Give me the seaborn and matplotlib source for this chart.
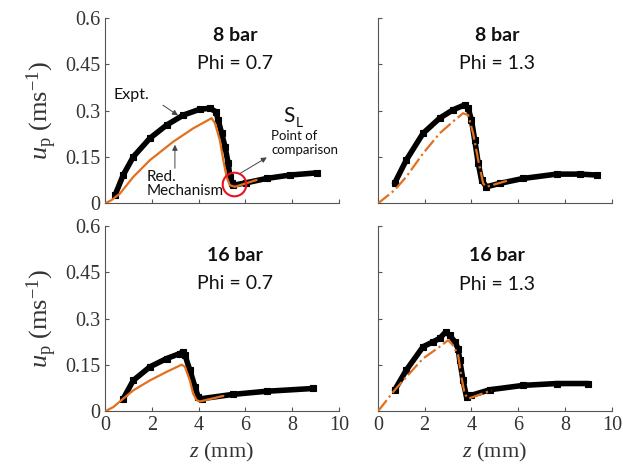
import matplotlib
matplotlib.use("Agg")
import matplotlib.pyplot as plt
import seaborn as sns

# 8 bar, Phi = 0.7
z_exp_8_07 = [0.43, 0.78, 1.21, 1.92, 2.64, 3.35, 4.06, 4.49, 4.74, 4.84, 4.99, 5.13, 5.27, 5.34, 5.41, 5.48, 6.05, 6.91, 7.91, 9.05]
u_exp_8_07 = [0.027, 0.092, 0.151, 0.211, 0.254, 0.286, 0.305, 0.308, 0.297, 0.270, 0.227, 0.184, 0.130, 0.086, 0.065, 0.059, 0.067, 0.081, 0.092, 0.099]
z_mod_8_07 = [0, 0.28, 0.64, 1.21, 1.92, 2.92, 3.77, 4.56, 4.70, 4.91, 5.06, 5.20, 5.34, 5.56, 6.48]
u_mod_8_07 = [0, 0.011, 0.032, 0.086, 0.140, 0.200, 0.243, 0.276, 0.260, 0.205, 0.140, 0.086, 0.059, 0.054, 0.076]

# 8 bar, Phi = 1.3
z_exp_8_13 = [0.71, 1.21, 1.93, 2.64, 3.21, 3.71, 3.86, 4.00, 4.14, 4.29, 4.43, 4.64, 5.21, 6.21, 7.64, 8.64, 9.36]
u_exp_8_13 = [0.065, 0.140, 0.227, 0.276, 0.303, 0.319, 0.308, 0.270, 0.205, 0.130, 0.076, 0.054, 0.065, 0.081, 0.095, 0.095, 0.092]
z_mod_8_13 = [0, 0.71, 1.21, 1.93, 2.64, 3.21, 3.64, 3.86, 4.07, 4.29, 4.50, 4.64, 5.64]
u_mod_8_13 = [0, 0.043, 0.086, 0.162, 0.227, 0.265, 0.292, 0.286, 0.227, 0.140, 0.065, 0.054, 0.076]

# 16 bar, Phi = 0.7
z_exp_16_07 = [0.78, 1.21, 1.92, 2.64, 3.20, 3.32, 3.42, 3.63, 3.85, 3.99, 4.13, 5.48, 6.91, 8.90]
u_exp_16_07 = [0.041, 0.100, 0.144, 0.171, 0.187, 0.192, 0.182, 0.133, 0.079, 0.046, 0.041, 0.055, 0.065, 0.074]
z_mod_16_07 = [0, 0.36, 0.78, 1.21, 1.92, 2.64, 3.28, 3.42, 3.63, 3.77, 3.92, 4.06, 5.06]
u_mod_16_07 = [0, 0.014, 0.041, 0.068, 0.100, 0.128, 0.151, 0.144, 0.100, 0.057, 0.036, 0.032, 0.050]

# 16 bar, Phi = 1.3
z_exp_16_13 = [0.71, 1.21, 1.93, 2.36, 2.64, 2.90, 3.07, 3.29, 3.43, 3.50, 3.64, 3.79, 4.00, 4.79, 6.21, 7.64, 9.00]
u_exp_16_13 = [0.068, 0.133, 0.209, 0.225, 0.236, 0.257, 0.246, 0.225, 0.203, 0.165, 0.100, 0.046, 0.052, 0.070, 0.084, 0.090, 0.090]
z_mod_16_13 = [0, 0.71, 1.21, 1.93, 2.64, 3.00, 3.21, 3.43, 3.57, 3.71, 3.86, 4.86]
u_mod_16_13 = [0, 0.068, 0.111, 0.171, 0.209, 0.230, 0.214, 0.182, 0.111, 0.057, 0.041, 0.068]

pressures = ["8 bar", "8 bar", "16 bar", "16 bar"]
phis = ["Phi = 0.7", "Phi = 1.3", "Phi = 0.7", "Phi = 1.3"]
x_ticks = [0, 2, 4, 6, 8, 10]
y_ticks = [0, 0.15, 0.3, 0.45, 0.6]
y_tick_labels = ["0", "0.15", "0.3", "0.45", "0.6"]

sns.set_style("ticks")
plt.rcParams["font.family"] = ["Liberation Serif", "DejaVu Serif"]
plt.rcParams["mathtext.fontset"] = "custom"
plt.rcParams["mathtext.rm"] = "Liberation Serif"
plt.rcParams["mathtext.it"] = "Liberation Serif:italic"

orange = "#E3701D"
grey = "#555555"
title_font = "Lato"

fig, axes = plt.subplots(2, 2, figsize=(6.23, 4.75), dpi=100)
fig.subplots_adjust(left=0.1685, right=0.982, top=0.962, bottom=0.134, wspace=0.167, hspace=0.121)

panels = [
    (z_exp_8_07, u_exp_8_07, z_mod_8_07, u_mod_8_07, "-"),
    (z_exp_8_13, u_exp_8_13, z_mod_8_13, u_mod_8_13, "-."),
    (z_exp_16_07, u_exp_16_07, z_mod_16_07, u_mod_16_07, "-"),
    (z_exp_16_13, u_exp_16_13, z_mod_16_13, u_mod_16_13, "-."),
]
title_x = [0.556, 0.51, 0.556, 0.51]
title_y = [(0.908, 0.757), (0.908, 0.757), (0.84, 0.69), (0.84, 0.685)]

for i, ax in enumerate(axes.flat):
    ze, ue, zm, um, ls = panels[i]
    sns.lineplot(x=ze, y=ue, ax=ax, color="black", lw=4.0, marker="s", markersize=4,
                 markerfacecolor="black", markeredgecolor="black", markeredgewidth=0.8,
                 sort=False, estimator=None, zorder=2)
    sns.lineplot(x=zm, y=um, ax=ax, color=orange, lw=1.6, linestyle=ls,
                 sort=False, estimator=None, zorder=3)
    ax.set_xlim(0, 10)
    ax.set_ylim(0, 0.6)
    ax.set_xticks(x_ticks)
    ax.set_yticks(y_ticks)
    ax.tick_params(direction="in", length=3, width=0.8, color=grey, labelcolor="#333333", labelsize=14.5)
    for s in ["top", "right"]:
        ax.spines[s].set_visible(False)
    for s in ["left", "bottom"]:
        ax.spines[s].set_color(grey)
        ax.spines[s].set_linewidth(0.8)
    ax.set_xlabel("")
    ax.set_ylabel("")
    if i % 2 == 0:
        ax.set_yticklabels(y_tick_labels)
        ax.set_ylabel(r"$u_{\mathrm{p}}\ (\mathrm{ms}^{\mathrm{-1}})$", fontsize=19, color="#333333", labelpad=4)
    else:
        ax.set_yticklabels([])
    if i < 2:
        ax.set_xticklabels([])
    else:
        ax.set_xlabel(r"$z$ (mm)", fontsize=16, color="#333333", labelpad=4)
    ty1, ty2 = title_y[i]
    ax.text(title_x[i], ty1, pressures[i], transform=ax.transAxes, ha="center", va="center",
            fontsize=14, fontweight="bold", family=title_font, color="#111111")
    ax.text(title_x[i], ty2, phis[i], transform=ax.transAxes, ha="center", va="center",
            fontsize=14, family=title_font, color="#111111")

# annotations on the first panel
ax = axes[0, 0]
arrow = dict(arrowstyle="-|>", color="#444444", lw=0.7, mutation_scale=8, shrinkA=0, shrinkB=0)
ax.text(1.15, 0.352, "Expt.", ha="center", va="center", fontsize=11.5, family=title_font, color="#111111")
ax.annotate("", xy=(3.12, 0.285), xytext=(2.48, 0.318), arrowprops=arrow)
ax.text(1.8, 0.063, "Red.\nMechanism", ha="left", va="center", fontsize=11, family=title_font,
        color="#111111", linespacing=1.05)
ax.annotate("", xy=(2.99, 0.19), xytext=(2.99, 0.114), arrowprops=arrow)
ax.text(7.85, 0.283, "S", ha="center", va="center", fontsize=15, family=title_font, color="#111111")
ax.text(8.3, 0.262, "L", ha="center", va="center", fontsize=10, family=title_font, color="#111111")
ax.text(7.12, 0.195, "Point of\ncomparison", ha="left", va="center", fontsize=9.5, family=title_font,
        color="#111111", linespacing=1.15)
ax.annotate("", xy=(6.92, 0.149), xytext=(5.77, 0.097), arrowprops=arrow)
ax.plot([5.51], [0.064], marker="o", markersize=17, markerfacecolor="none",
        markeredgecolor="#E8141B", markeredgewidth=1.5, zorder=5)

fig.savefig("out.png", dpi=100)
